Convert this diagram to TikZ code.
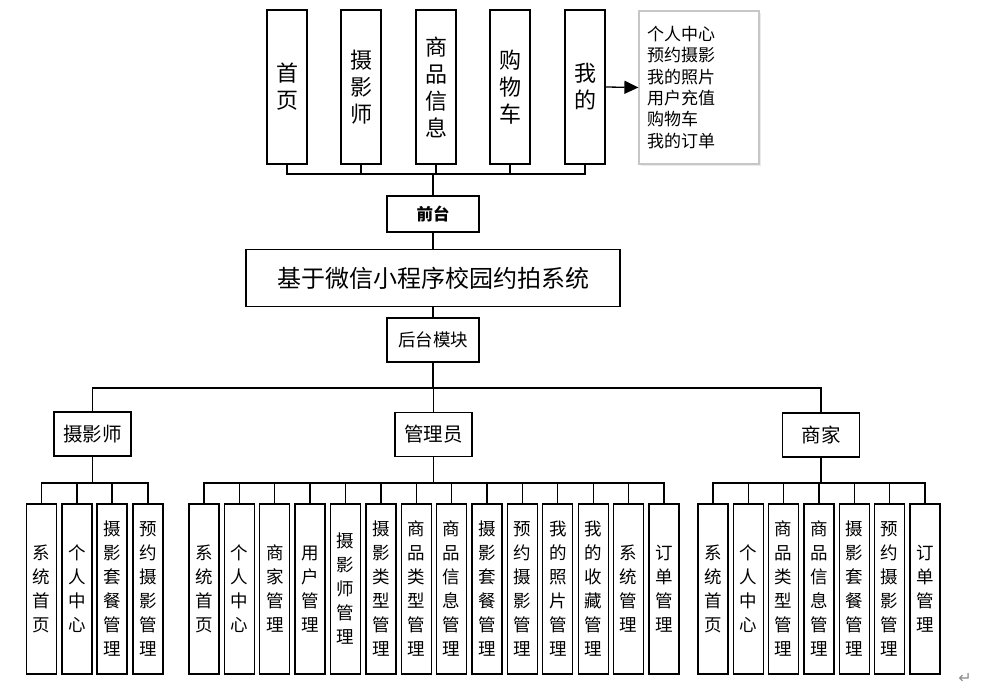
\documentclass[tikz,border=0pt]{standalone}
\usepackage{fontspec}
\setmainfont{Noto Sans CJK SC}
\newfontfamily\symfont{DejaVu Sans}
\usetikzlibrary{arrows.meta}
\tikzset{
  box/.style={draw=black, line width=1.3pt, fill=white, inner sep=0pt, align=center},
  topbox/.style={box, minimum width=40pt, minimum height=154pt, font=\fontsize{22}{27}\selectfont},
  leaf/.style={box, minimum width=30pt, minimum height=170pt, font=\fontsize{17.5}{24}\selectfont},
  role/.style={box, minimum width=77pt, minimum height=44pt, font=\fontsize{19.5}{22}\selectfont},
  conn/.style={draw=black, line width=1.3pt},
}
\begin{document}
\begin{tikzpicture}[x=1pt,y=-1pt]
\useasboundingbox (0,0) rectangle (984,698);
% top row
\node[topbox] (t1) at (287,87) {首\\页};
\node[topbox] (t2) at (361,87) {摄\\影\\师};
\node[topbox] (t3) at (436,87) {商\\品\\信\\息};
\node[topbox] (t4) at (510,87) {购\\物\\车};
\node[topbox] (t5) at (585,87) {我\\的};
\fill[black!8] (641,13) rectangle (761,166);
\node[draw=black!22, line width=1.2pt, fill=white, minimum width=120pt, minimum height=153pt, inner sep=0pt,
      font=\fontsize{17}{21.3}\selectfont, align=left, text width=104pt] (mine) at (699,87.5)
      {个人中心\\预约摄影\\我的照片\\用户充值\\购物车\\我的订单};
\draw[conn, -{Triangle[length=14pt,width=13pt]}] (t5.east) -- (mine.west);
% front
\node[box, minimum width=92pt, minimum height=36pt, font=\fontsize{16.5}{20}\selectfont\bfseries] (qt) at (433,214) {前台};
\coordinate (topbus) at (433,174);
\foreach \t in {t1,t2,t3,t4,t5}{
  \draw[conn] (\t.south) -- (\t.south |- topbus) -- (topbus);
}
\draw[conn] (topbus) -- (qt.north);
% main
\node[box, minimum width=374pt, minimum height=57pt, font=\fontsize{24}{26}\selectfont] (sys) at (433,278) {基于微信小程序校园约拍系统};
\draw[conn] (qt.south) -- (sys.north);
\node[box, minimum width=92pt, minimum height=44pt, font=\fontsize{17.5}{20}\selectfont] (ht) at (433,340) {后台模块};
\draw[conn] (sys.south) -- (ht.north);
% roles
\node[role] (r1) at (92.5,434) {摄影师};
\node[role] (r2) at (433.5,434.5) {管理员};
\node[role] (r3) at (821,435) {商家};
\coordinate (bigbus) at (433,388);
\draw[conn] (ht.south) -- (bigbus);
\foreach \r in {r1,r2,r3}{
  \draw[conn] (bigbus) -- (bigbus -| \r.north) -- (\r.north);
}
% photographer leaves
\node[leaf] (p1) at (41.5,589) {系\\统\\首\\页};
\node[leaf] (p2) at (77,589) {个\\人\\中\\心};
\node[leaf] (p3) at (112,589) {摄\\影\\套\\餐\\管\\理};
\node[leaf] (p4) at (148,589) {预\\约\\摄\\影\\管\\理};
\coordinate (b1) at (92.5,483);
\draw[conn] (r1.south) -- (b1);
\foreach \l in {p1,p2,p3,p4}{
  \draw[conn] (b1) -- (b1 -| \l.north) -- (\l.north);
}
% admin leaves
\node[leaf] (a1) at (204,589) {系\\统\\首\\页};
\node[leaf] (a2) at (239.4,589) {个\\人\\中\\心};
\node[leaf] (a3) at (274.8,589) {商\\家\\管\\理};
\node[leaf] (a4) at (310.1,589) {用\\户\\管\\理};
\node[leaf] (a5) at (345.5,589) {摄\\影\\师\\管\\理};
\node[leaf] (a6) at (380.9,589) {摄\\影\\类\\型\\管\\理};
\node[leaf] (a7) at (416.3,589) {商\\品\\类\\型\\管\\理};
\node[leaf] (a8) at (451.7,589) {商\\品\\信\\息\\管\\理};
\node[leaf] (a9) at (487.1,589) {摄\\影\\套\\餐\\管\\理};
\node[leaf] (a10) at (522.4,589) {预\\约\\摄\\影\\管\\理};
\node[leaf] (a11) at (557.8,589) {我\\的\\照\\片\\管\\理};
\node[leaf] (a12) at (593.2,589) {我\\的\\收\\藏\\管\\理};
\node[leaf] (a13) at (628.6,589) {系\\统\\管\\理};
\node[leaf] (a14) at (664,589) {订\\单\\管\\理};
\coordinate (b2) at (433.5,483);
\draw[conn] (r2.south) -- (b2);
\foreach \l in {a1,a2,a3,a4,a5,a6,a7,a8,a9,a10,a11,a12,a13,a14}{
  \draw[conn] (b2) -- (b2 -| \l.north) -- (\l.north);
}
% merchant leaves
\node[leaf] (m1) at (713,589) {系\\统\\首\\页};
\node[leaf] (m2) at (748.3,589) {个\\人\\中\\心};
\node[leaf] (m3) at (783.7,589) {商\\品\\类\\型\\管\\理};
\node[leaf] (m4) at (819,589) {商\\品\\信\\息\\管\\理};
\node[leaf] (m5) at (854.3,589) {摄\\影\\套\\餐\\管\\理};
\node[leaf] (m6) at (889.7,589) {预\\约\\摄\\影\\管\\理};
\node[leaf] (m7) at (925,589) {订\\单\\管\\理};
\coordinate (b3) at (821,483);
\draw[conn] (r3.south) -- (b3);
\foreach \l in {m1,m2,m3,m4,m5,m6,m7}{
  \draw[conn] (b3) -- (b3 -| \l.north) -- (\l.north);
}
% paragraph mark
\node[font=\symfont\fontsize{16}{16}\selectfont, text=black!45, inner sep=0pt] (pm) at (965,678) {↵};
\end{tikzpicture}
\end{document}
